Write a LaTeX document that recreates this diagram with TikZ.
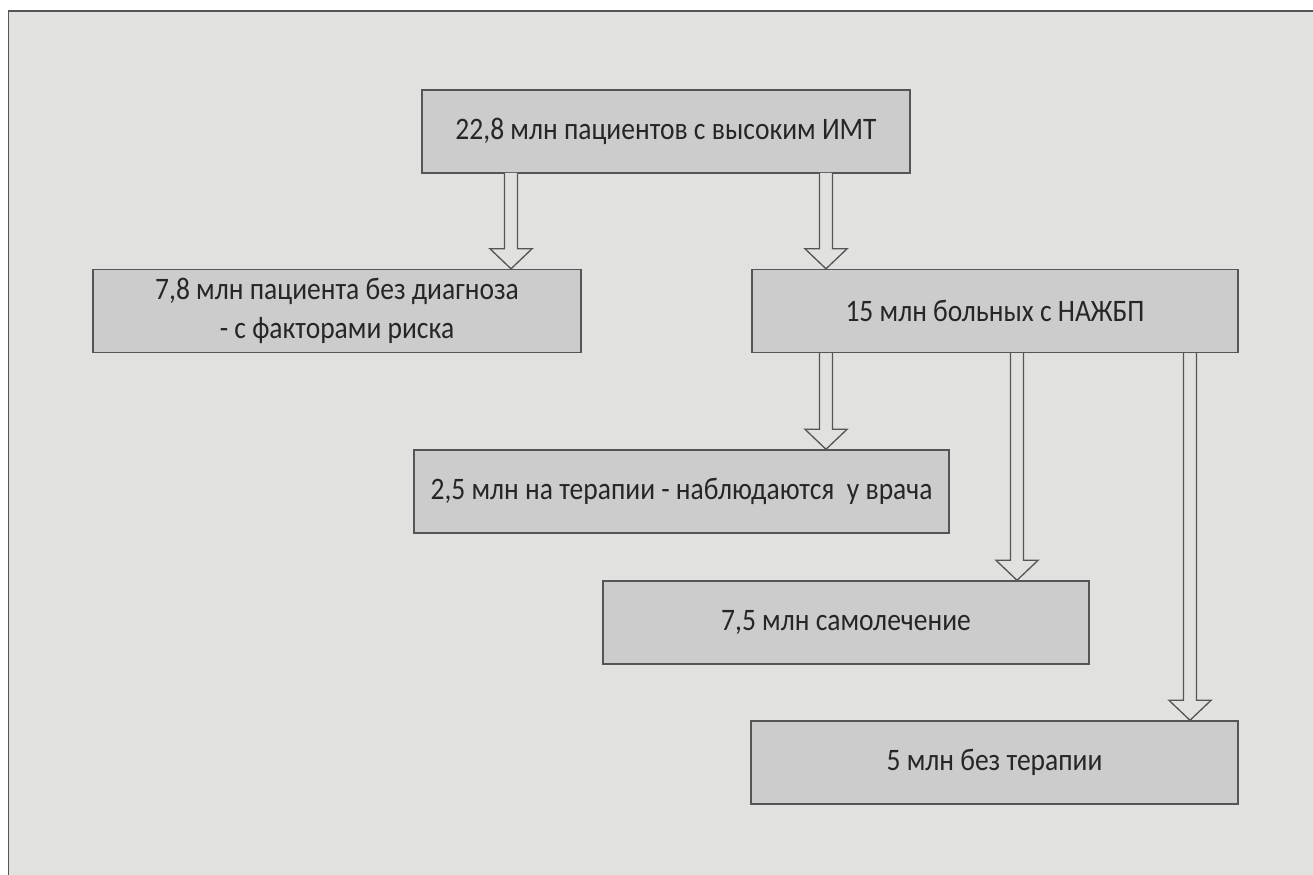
\documentclass[tikz,border=0pt]{standalone}
\usepackage{fontspec}
\setmainfont{Carlito}[FakeStretch=0.88]
\usepackage{tikz}
\usetikzlibrary{positioning,calc}
\definecolor{panelgray}{HTML}{E1E1E0}
\definecolor{boxgray}{HTML}{CCCCCC}
\definecolor{edgegray}{HTML}{555555}
\tikzset{every picture/.style={line width=0.8pt}}
\tikzset{
  stagebox/.style={draw=edgegray, fill=boxgray, line width=0.8pt, minimum width=9.76cm,
    minimum height=1.66cm, align=center, text=black!85,
    font=\fontsize{17.8}{22}\selectfont, inner sep=0pt},
  hollowarrow/.style={draw=edgegray, fill=panelgray, line width=0.75pt, line join=miter}
}
% hollow block arrow, straight down from #1 to the level of #2
\newcommand{\downarrowto}[2]{%
  \filldraw[hollowarrow] let \p1=(#1), \p2=(#1 |- #2) in
    (\x1-0.13cm,\y1) -- (\x1-0.13cm,\y2+0.4cm) -- (\x1-0.42cm,\y2+0.4cm) -- (\x1,\y2)
    -- (\x1+0.42cm,\y2+0.4cm) -- (\x1+0.13cm,\y2+0.4cm) -- (\x1+0.13cm,\y1);
}

\begin{document}
\begin{tikzpicture}[x=0.02cm, y=-0.02cm]
    \useasboundingbox (0,0) rectangle (1313,875);
    % Panel
    \fill[panelgray] (8.5,11) rectangle (1320,880);
    \draw[edgegray, line width=1.1pt] (8.5,880) -- (8.5,11) -- (1320,11);

    % Stages
    \node[stagebox] (imt) at (666,131.5) {22,8 млн пациентов с высоким ИМТ};
    \node[stagebox] (risk) at (337,311) {7,8 млн пациента без диагноза\\- с факторами риска};
    \node[stagebox, minimum width=9.72cm] (nafld) at (995,311) {15 млн больных с НАЖБП};
    \node[stagebox, minimum width=10.7cm] (therapy) at (681.5,491.5) {2,5 млн на терапии - наблюдаются\ \ у врача};
    \node[stagebox, minimum width=9.72cm] (selfcare) at (846,622.5) {7,5 млн самолечение};
    \node[stagebox, minimum width=9.74cm] (notherapy) at (994.5,762.5) {5 млн без терапии};

    % Arrow start points
    \coordinate (imtL) at (511,173);
    \coordinate (imtR) at (826,173);
    \coordinate (nafldA) at (826,353);
    \coordinate (nafldB) at (1017,353);
    \coordinate (nafldC) at (1190,353);

    % Flows
    \downarrowto{imtL}{risk.north}
    \downarrowto{imtR}{nafld.north}
    \downarrowto{nafldA}{therapy.north}
    \downarrowto{nafldB}{selfcare.north}
    \downarrowto{nafldC}{notherapy.north}
\end{tikzpicture}
\end{document}
